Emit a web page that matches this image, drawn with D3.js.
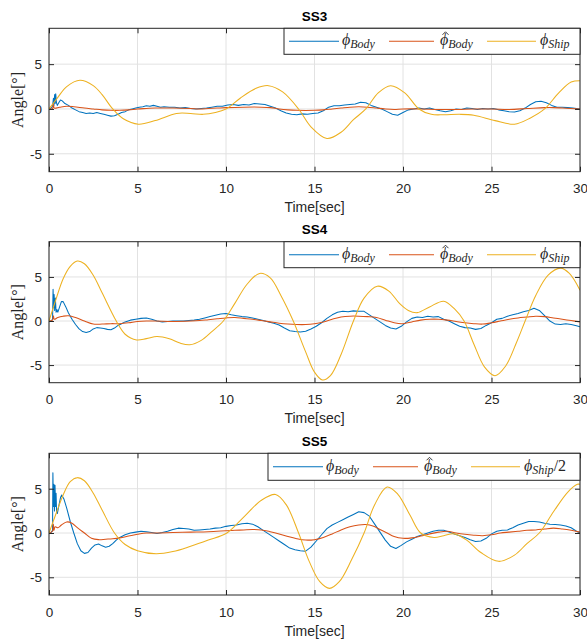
<!DOCTYPE html>
<html><head><meta charset="utf-8">
<script src="https://cdn.jsdelivr.net/npm/d3@7"></script>
<style>body{margin:0;background:#fff;}</style>
</head><body>
<script>
// ---------- data ----------
const titles = ["SS3", "SS4", "SS5"];
const xTicks = [0, 5, 10, 15, 20, 25, 30];
const yTicks = [-5, 0, 5];
const xDomain = [0, 30];
const yDomain = [-7, 9];
const xLabel = "Time[sec]";
const yLabel = "Angle[°]";

const ss3Body = [[0,0],[0.1,0.05],[0.2,0.3],[0.25,1.2],[0.28,0.4],[0.32,1.6],[0.35,0.6],[0.38,1.7],[0.42,0.7],[0.47,0.4],[0.55,0.7],[0.65,1.0],[0.75,0.9],[0.9,0.6],[1.1,0.4],[1.3,0.1],[1.5,-0.1],[1.7,-0.3],[1.9,-0.4],[2.1,-0.5],[2.3,-0.45],[2.5,-0.5],[2.7,-0.4],[2.9,-0.5],[3.1,-0.6],[3.3,-0.7],[3.5,-0.8],[3.7,-0.75],[3.9,-0.6],[4.1,-0.4],[4.3,-0.3],[4.5,-0.1],[4.7,0],[4.9,0.1],[5.1,0.2],[5.3,0.25],[5.5,0.35],[5.7,0.3],[5.9,0.4],[6.1,0.3],[6.3,0.2],[6.5,0.25],[6.8,0.2],[7.1,0.2],[7.4,0.1],[7.7,0.15],[8.0,0.05],[8.3,0],[8.6,0.05],[8.9,0.1],[9.2,0.2],[9.5,0.3],[9.8,0.3],[10.1,0.45],[10.4,0.5],[10.7,0.4],[11.0,0.5],[11.3,0.45],[11.6,0.6],[11.9,0.55],[12.2,0.5],[12.5,0.3],[12.8,0.1],[13.1,-0.2],[13.4,-0.45],[13.7,-0.6],[14.0,-0.65],[14.3,-0.55],[14.6,-0.6],[14.9,-0.5],[15.2,-0.45],[15.5,-0.2],[15.8,0.2],[16.1,0.35],[16.4,0.35],[16.7,0.45],[17.0,0.5],[17.3,0.55],[17.6,0.75],[17.9,0.7],[18.2,0.4],[18.5,0.2],[18.8,0],[19.1,-0.3],[19.4,-0.6],[19.7,-0.7],[20.0,-0.4],[20.3,-0.1],[20.6,0],[20.9,0.1],[21.2,0],[21.5,0.1],[21.8,-0.05],[22.1,-0.2],[22.4,-0.3],[22.7,-0.2],[23.0,0],[23.3,-0.05],[23.6,0.1],[23.9,0.05],[24.2,-0.05],[24.5,0.05],[24.8,0],[25.1,0.05],[25.4,-0.1],[25.7,-0.2],[26.0,-0.3],[26.3,-0.35],[26.6,-0.2],[26.9,0.1],[27.2,0.5],[27.5,0.8],[27.8,0.85],[28.1,0.7],[28.4,0.4],[28.7,0.2],[29.0,0.2],[29.3,0.15],[29.6,0.1],[30,0]];
const ss3BodyHat = [[0,0],[0.2,0.05],[0.25,0.5],[0.3,0.1],[0.6,0.2],[1.0,0.3],[1.4,0.25],[2.0,0.1],[2.5,0],[3.0,-0.1],[3.5,-0.15],[4.0,-0.15],[4.5,-0.1],[5.0,0],[5.5,0.05],[6.0,0.1],[7.0,0.1],[8.0,0.05],[8.5,0],[9.0,0.05],[9.5,0.1],[10.0,0.15],[11.0,0.2],[12.0,0.2],[12.5,0.15],[13.0,0],[13.5,-0.1],[14.0,-0.15],[15.0,-0.15],[15.5,-0.1],[16.0,0],[16.5,0.1],[17.0,0.2],[17.5,0.25],[18.0,0.2],[18.5,0.1],[19.0,0],[19.5,-0.05],[20.0,0],[21.0,0],[22.0,-0.05],[23.0,-0.05],[24.0,0],[25.0,0],[26.0,-0.05],[27.0,0.05],[28.0,0.15],[28.5,0.15],[29.0,0.1],[30,0]];
const ss3Ship = [[0,0],[0.5,1.3],[1.0,2.5],[1.75,3.2],[2.5,2.6],[3.0,1.6],[3.6,0],[4.2,-1.1],[5.05,-1.7],[6.0,-1.3],[7.2,-0.5],[8.0,-0.5],[8.7,-0.6],[9.4,-0.4],[10.0,0],[10.8,1.2],[11.7,2.3],[12.4,2.6],[13.2,1.9],[14.1,0],[14.8,-2.0],[15.7,-3.3],[16.5,-2.6],[17.2,-1.2],[17.9,0],[18.6,1.8],[19.3,2.6],[20.1,1.8],[20.9,0],[21.6,-0.6],[22.3,-0.65],[23.2,-0.6],[24.0,-0.7],[25.2,-1.3],[26.3,-1.7],[27.2,-1.0],[28.0,0],[28.8,1.8],[29.5,3.0],[30,3.15]];

const ss4Body = [[0,0],[0.1,0],[0.2,0.2],[0.23,3.6],[0.26,1.5],[0.29,3.0],[0.32,1.2],[0.36,2.6],[0.4,1.0],[0.45,1.3],[0.5,1.0],[0.6,1.6],[0.7,2.2],[0.8,2.2],[0.95,1.6],[1.1,0.9],[1.3,0.2],[1.5,-0.4],[1.7,-0.9],[1.9,-1.2],[2.1,-1.3],[2.3,-1.2],[2.5,-0.9],[2.7,-0.75],[2.9,-0.8],[3.1,-0.85],[3.3,-0.95],[3.5,-1.0],[3.7,-0.8],[3.9,-0.5],[4.1,-0.3],[4.3,-0.1],[4.6,0.1],[4.9,0.2],[5.2,0.3],[5.5,0.35],[5.8,0.2],[6.1,0],[6.4,-0.1],[6.7,-0.05],[7.0,0],[7.3,0],[7.6,0],[7.9,0.05],[8.2,0.1],[8.5,0.2],[8.8,0.35],[9.1,0.5],[9.4,0.65],[9.7,0.8],[10.0,0.85],[10.3,0.7],[10.6,0.6],[10.9,0.5],[11.2,0.45],[11.5,0.35],[11.8,0.2],[12.1,0.05],[12.4,-0.1],[12.7,-0.25],[13.0,-0.45],[13.3,-0.8],[13.6,-1.1],[13.9,-1.2],[14.2,-1.25],[14.5,-1.15],[14.8,-0.9],[15.1,-0.6],[15.4,-0.2],[15.7,0.3],[16.0,0.7],[16.3,1.0],[16.6,1.1],[16.9,1.05],[17.2,1.15],[17.5,1.1],[17.8,1.1],[18.1,0.7],[18.4,0.3],[18.7,-0.1],[19.0,-0.5],[19.3,-0.8],[19.6,-0.9],[19.9,-0.6],[20.2,-0.1],[20.5,0.3],[20.8,0.45],[21.1,0.4],[21.4,0.55],[21.7,0.45],[22.0,0.5],[22.3,0.2],[22.6,0],[22.9,-0.3],[23.2,-0.6],[23.5,-0.75],[23.8,-0.8],[24.1,-0.95],[24.4,-0.85],[24.7,-0.5],[25.0,-0.2],[25.3,0.2],[25.6,0.3],[25.9,0.55],[26.2,0.7],[26.5,0.85],[26.8,1.05],[27.1,1.2],[27.4,1.45],[27.7,1.2],[28.0,0.6],[28.3,0],[28.6,-0.35],[28.9,-0.4],[29.2,-0.3],[29.5,-0.4],[29.8,-0.55],[30,-0.65]];
const ss4BodyHat = [[0,0],[0.2,0.1],[0.25,0.6],[0.3,0.2],[0.5,0.4],[0.8,0.55],[1.1,0.6],[1.5,0.4],[2.0,0],[2.5,-0.35],[3.0,-0.35],[3.5,-0.3],[4.0,-0.3],[4.5,-0.2],[5.0,-0.05],[5.5,0],[6.0,0],[7.0,-0.05],[8.0,0],[8.5,0.05],[9.0,0.15],[9.5,0.25],[10.0,0.35],[10.5,0.4],[11.0,0.3],[11.5,0.2],[12.0,0.05],[12.5,-0.1],[13.0,-0.25],[13.5,-0.35],[14.0,-0.4],[14.5,-0.4],[15.0,-0.3],[15.5,-0.1],[16.0,0.2],[16.5,0.45],[17.0,0.55],[17.5,0.55],[18.0,0.5],[18.5,0.4],[19.0,0.1],[19.5,-0.2],[20.0,-0.3],[20.5,-0.1],[21.0,0.1],[21.5,0.2],[22.0,0.2],[22.5,0.1],[23.0,-0.05],[23.5,-0.2],[24.0,-0.3],[24.5,-0.35],[25.0,-0.2],[25.5,0],[26.0,0.2],[26.5,0.35],[27.0,0.45],[27.5,0.55],[28.0,0.5],[28.5,0.35],[29.0,0.2],[29.5,0.05],[30,-0.1]];
const ss4Ship = [[0,0],[0.4,2.5],[0.8,4.8],[1.2,6.2],[1.6,6.8],[2.0,6.5],[2.5,5.2],[3.0,3.2],[3.8,0],[4.3,-1.5],[4.95,-2.15],[5.5,-2.0],[6.1,-1.75],[6.8,-2.0],[7.4,-2.5],[7.95,-2.7],[8.6,-2.2],[9.2,-1.2],[9.85,0],[10.5,2.0],[11.2,4.2],[11.9,5.4],[12.5,4.9],[13.1,2.9],[13.8,0],[14.5,-3.5],[15.0,-5.8],[15.45,-6.7],[15.9,-6.2],[16.5,-3.8],[17.2,0],[17.8,2.6],[18.55,3.95],[19.2,3.4],[19.8,2.0],[20.3,1.2],[20.8,0.95],[21.5,1.6],[22.3,2.25],[22.9,1.4],[23.45,0],[24.0,-2.6],[24.6,-5.2],[25.2,-6.2],[25.8,-5.1],[26.4,-2.5],[26.9,0],[27.5,2.9],[28.2,5.2],[28.9,6.0],[29.4,5.4],[30,3.5]];

const ss5Body = [[0,0],[0.1,0],[0.2,0.3],[0.22,6.8],[0.25,3.0],[0.28,5.5],[0.31,2.5],[0.34,5.4],[0.37,3.0],[0.4,4.5],[0.43,2.3],[0.47,2.2],[0.55,3.0],[0.65,4.0],[0.72,4.3],[0.85,3.8],[1.0,2.8],[1.2,1.3],[1.4,0],[1.6,-1.2],[1.8,-2.0],[2.0,-2.3],[2.2,-2.2],[2.4,-1.7],[2.6,-1.35],[2.8,-1.25],[3.0,-1.45],[3.2,-1.6],[3.4,-1.5],[3.6,-1.2],[3.8,-0.8],[4.0,-0.5],[4.3,-0.2],[4.6,0],[4.9,0.1],[5.2,0.2],[5.5,0.15],[5.8,0.05],[6.1,-0.05],[6.4,0.05],[6.7,0.2],[7.0,0.4],[7.3,0.55],[7.6,0.5],[7.9,0.45],[8.2,0.3],[8.5,0.35],[8.8,0.4],[9.1,0.45],[9.4,0.55],[9.7,0.6],[10.0,0.75],[10.3,0.85],[10.6,0.9],[10.9,1.05],[11.2,1.1],[11.5,1.0],[11.8,0.7],[12.1,0.3],[12.4,-0.1],[12.7,-0.5],[13.0,-0.9],[13.3,-1.3],[13.6,-1.7],[13.9,-1.9],[14.2,-2.0],[14.5,-2.05],[14.8,-1.6],[15.1,-0.9],[15.4,-0.2],[15.7,0.5],[16.0,0.9],[16.3,1.2],[16.6,1.5],[16.9,1.8],[17.2,2.1],[17.5,2.4],[17.8,2.3],[18.1,1.9],[18.4,1.0],[18.7,0.1],[19.0,-0.8],[19.3,-1.5],[19.6,-1.75],[19.9,-1.4],[20.2,-1.0],[20.5,-0.7],[20.8,-0.4],[21.1,-0.2],[21.4,0],[21.7,0.2],[22.0,0.3],[22.3,0.3],[22.6,0.1],[22.9,-0.1],[23.2,-0.3],[23.5,-0.5],[23.8,-0.75],[24.1,-0.95],[24.4,-0.9],[24.7,-0.6],[25.0,-0.1],[25.3,0.2],[25.6,0.3],[25.9,0.35],[26.2,0.6],[26.5,0.9],[26.8,1.1],[27.1,1.3],[27.4,1.3],[27.7,1.25],[28.0,1.1],[28.3,1.0],[28.6,0.95],[28.9,0.9],[29.2,0.8],[29.5,0.6],[29.8,0.2],[30,0]];
const ss5BodyHat = [[0,0],[0.2,0.2],[0.25,1.0],[0.28,0.3],[0.35,0.7],[0.5,0.6],[0.7,0.9],[1.0,1.25],[1.3,1.1],[1.6,0.6],[2.0,0],[2.4,-0.6],[2.8,-0.75],[3.2,-0.7],[3.6,-0.65],[4.0,-0.55],[4.5,-0.35],[5.0,-0.15],[5.5,0],[6.0,0],[7.0,0.05],[8.0,0.1],[9.0,0.15],[10.0,0.25],[10.5,0.3],[11.0,0.35],[11.5,0.4],[12.0,0.35],[12.5,0.15],[13.0,-0.1],[13.5,-0.4],[14.0,-0.65],[14.5,-0.8],[15.0,-0.75],[15.5,-0.5],[16.0,-0.1],[16.5,0.35],[17.0,0.7],[17.5,0.9],[17.9,0.95],[18.3,0.8],[18.7,0.4],[19.1,0],[19.5,-0.4],[20.0,-0.6],[20.5,-0.55],[21.0,-0.35],[21.5,-0.1],[22.0,0.1],[22.5,0.2],[23.0,0],[23.5,-0.15],[24.0,-0.25],[24.5,-0.3],[25.0,-0.2],[25.5,0],[26.0,0.1],[26.5,0.2],[27.0,0.3],[27.5,0.35],[28.0,0.45],[28.5,0.55],[29.0,0.45],[29.5,0.3],[30,0.1]];
const ss5Ship = [[0,0],[0.4,2.2],[0.8,4.3],[1.2,5.8],[1.6,6.25],[2.0,5.9],[2.5,4.5],[3.0,2.6],[3.7,0],[4.3,-1.3],[5.0,-2.0],[6.05,-2.35],[7.0,-2.1],[8.0,-1.5],[9.0,-0.8],[10.05,0],[11.0,1.8],[12.0,3.7],[12.8,4.35],[13.4,3.2],[14.1,0],[14.7,-3.2],[15.3,-5.5],[15.85,-6.25],[16.4,-5.5],[17.1,-3.0],[17.8,0],[18.4,3.2],[19.1,5.2],[19.7,4.4],[20.4,2.0],[21.0,0],[21.75,-0.5],[22.3,-0.3],[22.9,-0.1],[23.6,-0.8],[24.4,-2.2],[25.4,-3.2],[26.3,-2.5],[27.0,-1.2],[27.7,0],[28.5,2.4],[29.3,4.6],[29.85,5.5],[30,5.5]];

const seriesNames = ["Body", "BodyHat", "Ship"];
const seriesColors = ["#0072BD", "#D95319", "#EDB120"];
const panelData = [
  [ss3Body, ss3BodyHat, ss3Ship],
  [ss4Body, ss4BodyHat, ss4Ship],
  [ss5Body, ss5BodyHat, ss5Ship]
];
const shipLabels = ["", "", "/2"];

// ---------- layout ----------
const L = 49, R = 580;
const tops = [28.3, 241.7, 453.3];
const heights = [143.4, 141, 141.7];
const legendLeft = [284, 284, 268];
const legendH = [26, 26, 27];
const axisColor = "#262626";
const sans = "'Liberation Sans', Arial, sans-serif";
const serif = "'Liberation Serif', 'DejaVu Serif', serif";

const svg = d3.select("body").append("svg")
  .attr("width", 587).attr("height", 643)
  .style("background", "#fff");

panelData.forEach((series, i) => {
  const top = tops[i], h = heights[i], bottom = top + h;
  const x = d3.scaleLinear().domain(xDomain).range([L, R]);
  const y = d3.scaleLinear().domain(yDomain).range([bottom, top]);
  const g = svg.append("g");

  // grid
  g.selectAll(".gx").data(xTicks).join("line")
    .attr("x1", d => x(d)).attr("x2", d => x(d))
    .attr("y1", top).attr("y2", bottom)
    .attr("stroke", "#e2e2e2").attr("stroke-width", 1);
  g.selectAll(".gy").data(yTicks).join("line")
    .attr("x1", L).attr("x2", R)
    .attr("y1", d => y(d)).attr("y2", d => y(d))
    .attr("stroke", "#e2e2e2").attr("stroke-width", 1);

  // clip
  const cid = "clip" + i;
  svg.append("clipPath").attr("id", cid).append("rect")
    .attr("x", L).attr("y", top).attr("width", R - L).attr("height", h);

  const curves = [d3.curveLinear, d3.curveCatmullRom, d3.curveCatmullRom];
  series.forEach((data, k) => {
    const line = d3.line().x(d => x(d[0])).y(d => y(d[1])).curve(curves[k]);
    g.append("path").datum(data)
      .attr("clip-path", `url(#${cid})`)
      .attr("d", line).attr("fill", "none")
      .attr("stroke", seriesColors[k]).attr("stroke-width", 1.05)
      .attr("stroke-linejoin", "round");
  });

  // axes
  const ax = g.append("g").attr("transform", `translate(0,${bottom})`)
    .call(d3.axisBottom(x).tickValues(xTicks).tickSize(-5).tickPadding(12).tickFormat(d3.format("d")));
  const ay = g.append("g").attr("transform", `translate(${L},0)`)
    .call(d3.axisLeft(y).tickValues(yTicks).tickSize(-5).tickPadding(7).tickFormat(d3.format("d")));
  const at = g.append("g").attr("transform", `translate(0,${top})`)
    .call(d3.axisTop(x).tickValues(xTicks).tickSize(-5).tickFormat(""));
  const ar = g.append("g").attr("transform", `translate(${R},0)`)
    .call(d3.axisRight(y).tickValues(yTicks).tickSize(-5).tickFormat(""));
  [ax, ay, at, ar].forEach(a => {
    a.select(".domain").remove();
    a.selectAll(".tick line").attr("stroke", axisColor);
    a.selectAll("text").attr("fill", axisColor).style("font-family", sans).style("font-size", "13.5px");
  });
  ay.selectAll("text").text(d => d < 0 ? "-" + Math.abs(d) : d);
  g.append("rect").attr("x", L).attr("y", top).attr("width", R - L).attr("height", h)
    .attr("fill", "none").attr("stroke", axisColor).attr("stroke-width", 1);

  // labels
  svg.append("text").attr("x", (L + R) / 2).attr("y", top - 7.5)
    .attr("text-anchor", "middle").style("font-family", sans)
    .style("font-weight", "bold").style("font-size", "13.5px").attr("fill", "#000")
    .text(titles[i]);
  svg.append("text").attr("x", (L + R) / 2).attr("y", bottom + 40.5)
    .attr("text-anchor", "middle").style("font-family", sans)
    .style("font-size", "14px").attr("fill", axisColor).text(xLabel);
  svg.append("text")
    .attr("transform", `translate(23,${(top + bottom) / 2}) rotate(-90)`)
    .attr("text-anchor", "middle").style("font-family", serif)
    .style("font-size", "16px").attr("fill", axisColor).text(yLabel);

  // legend
  const lx = legendLeft[i], lh = legendH[i];
  const lg = svg.append("g");
  lg.append("rect").attr("x", lx).attr("y", top).attr("width", R - lx).attr("height", lh)
    .attr("fill", "#fff").attr("stroke", axisColor).attr("stroke-width", 1);
  const ly = top + lh / 2;
  const entries = [
    {x1: 5, x2: 55, tx: 58}, {x1: 105, x2: 150, tx: 156}, {x1: 203, x2: 252, tx: 256}
  ];
  entries.forEach((e, k) => {
    lg.append("line").attr("x1", lx + e.x1).attr("x2", lx + e.x2)
      .attr("y1", ly).attr("y2", ly)
      .attr("stroke", seriesColors[k]).attr("stroke-width", 1.05);
    const t = lg.append("text").attr("x", lx + e.tx).attr("y", ly + 4)
      .style("font-family", serif).attr("fill", axisColor);
    t.append("tspan").style("font-style", "italic").style("font-size", "16px").text("ϕ");
    const sub = seriesNames[k] === "Ship" ? "Ship" : "Body";
    t.append("tspan").style("font-style", "italic").style("font-size", "12px")
      .attr("dy", 3).text(sub);
    if (k === 2 && shipLabels[i]) {
      t.append("tspan").style("font-size", "16px").attr("dy", -3).text(shipLabels[i]);
    }
    if (k === 1) {
      // circumflex accent over phi (hat)
      const cx = lx + e.tx + 5.5, hy = ly - 8.5;
      lg.append("path")
        .attr("d", `M${cx - 3},${hy + 2} L${cx},${hy - 1} L${cx + 3},${hy + 2}`)
        .attr("fill", "none").attr("stroke", axisColor).attr("stroke-width", 0.9);
    }
  });
});
</script>
</body></html>
